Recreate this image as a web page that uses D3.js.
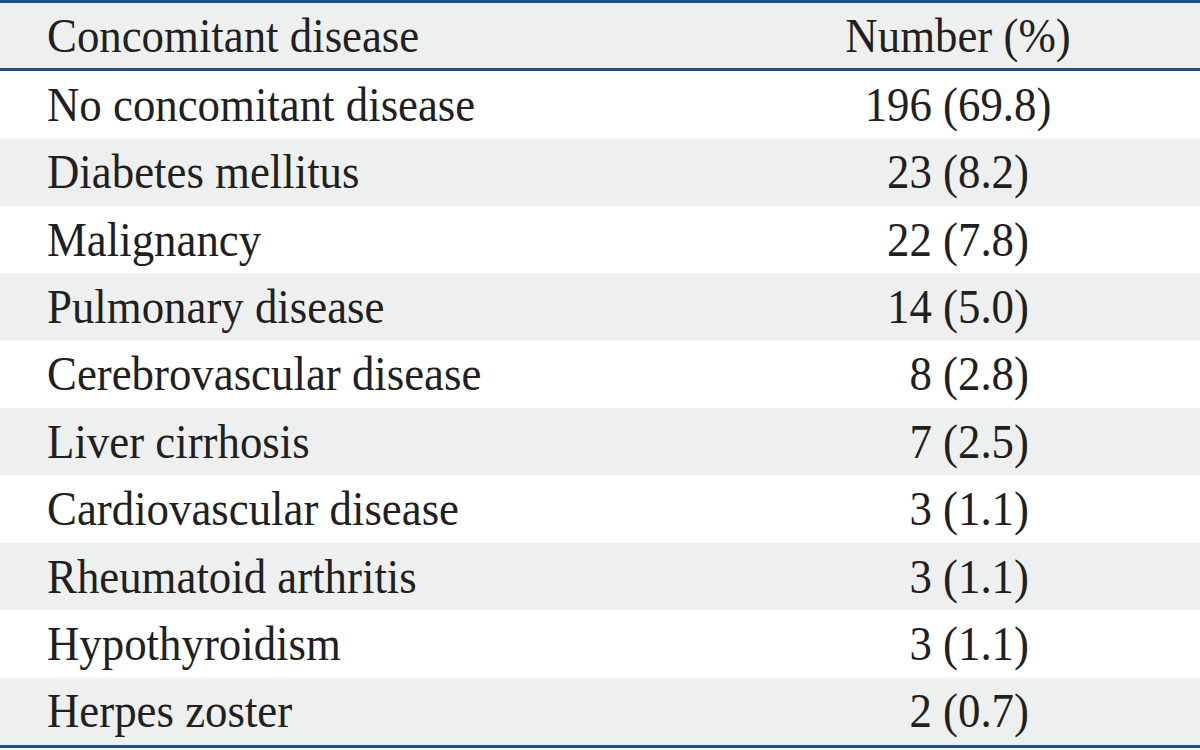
<!DOCTYPE html>
<html>
<head>
<meta charset="utf-8">
<script src="https://cdn.jsdelivr.net/npm/d3@7"></script>
<style>
  html, body { margin: 0; padding: 0; background: #fff; }
</style>
</head>
<body>
<div id="table"></div>
<script>
  // header + rows
  var headers = ["Concomitant disease", "Number (%)"];
  var diseases = ["No concomitant disease", "Diabetes mellitus", "Malignancy", "Pulmonary disease",
    "Cerebrovascular disease", "Liver cirrhosis", "Cardiovascular disease", "Rheumatoid arthritis",
    "Hypothyroidism", "Herpes zoster"];
  var counts = [196, 23, 22, 14, 8, 7, 3, 3, 3, 2];
  var percents = [69.8, 8.2, 7.8, 5.0, 2.8, 2.5, 1.1, 1.1, 1.1, 0.7];

  var width = 1200, height = 750;
  var lineColor = "#1d4f94", stripe = "#eeefef", ink = "#231f20";
  var fontSize = 49, squeeze = 0.915;

  var svg = d3.select("#table").append("svg")
    .attr("width", width).attr("height", height);

  // header band and data bands
  var yHead = d3.scaleBand().domain([0]).range([3, 68]);
  var y = d3.scaleBand().domain(d3.range(diseases.length)).range([71, 745]);

  svg.append("rect")
    .attr("x", 0).attr("y", yHead(0))
    .attr("width", width).attr("height", yHead.bandwidth())
    .attr("fill", stripe);

  svg.selectAll("rect.row")
    .data(diseases)
    .enter().append("rect")
    .attr("class", "row")
    .attr("x", 0).attr("y", function(d, i){ return y(i); })
    .attr("width", width).attr("height", y.bandwidth())
    .attr("fill", function(d, i){ return i % 2 ? stripe : "#fff"; });

  // rules
  [1.5, 69.5, 746.5].forEach(function(ly){
    svg.append("line")
      .attr("x1", 0).attr("x2", width)
      .attr("y1", ly).attr("y2", ly)
      .attr("stroke", lineColor).attr("stroke-width", 3);
  });

  function cell(x, yy, txt, anchor){
    svg.append("g")
      .attr("transform", "translate(" + x + "," + yy + ") scale(" + squeeze + ",1)")
      .append("text")
      .attr("text-anchor", anchor)
      .attr("font-family", "'Liberation Serif', 'Times New Roman', serif")
      .attr("font-size", fontSize)
      .attr("fill", ink)
      .text(txt);
  }

  var leftX = 47, midX = 958, baseOff = 0.74;

  cell(leftX, yHead(0) + yHead.bandwidth() * 0.75, headers[0], "start");
  cell(midX, yHead(0) + yHead.bandwidth() * 0.75, headers[1], "middle");

  diseases.forEach(function(d, i){
    var yy = y(i) + y.bandwidth() * baseOff;
    var n = counts[i] < 10 ? "\u2007" + counts[i] : String(counts[i]);
    cell(leftX, yy, d, "start");
    cell(midX, yy, n + " (" + percents[i].toFixed(1) + ")", "middle");
  });
</script>
</body>
</html>
